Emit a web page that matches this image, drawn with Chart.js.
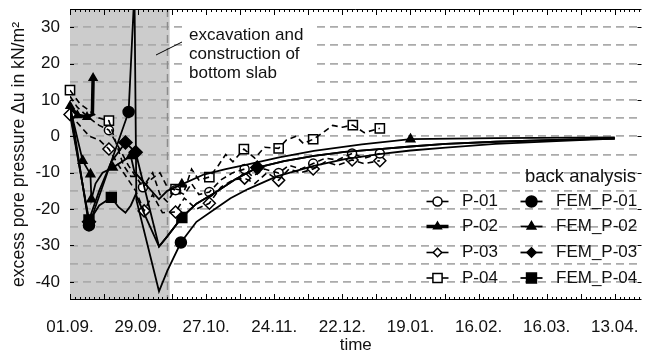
<!DOCTYPE html>
<html>
<head>
<meta charset="utf-8">
<script src="https://cdn.jsdelivr.net/npm/chart.js"></script>
<style>
  html, body { margin: 0; padding: 0; background: #fff; }
  #box { width: 650px; height: 352px; }
</style>
</head>
<body>
<div id="box"><canvas id="grafico" width="650" height="352"></canvas></div>
<script>
// x values are days counted from 01.09., y values in kN/m²
const tickDays = [0, 28, 56, 84, 112, 140, 168, 196, 224];
const tickLabels = ['01.09.', '29.09.', '27.10.', '24.11.', '22.12.', '19.01.', '16.02.', '16.03.', '13.04.'];
const yLabels = [30, 20, 10, 0, -10, -20, -30, -40];
const excavationDays = [0, 41];

// measured
const p01Line = [[0,11],[3,8],[8,5],[12,3],[16,1.7],[20,-3],[24,-8],[27,-11],[30,-14],[33,-12],[37,-10],[40,-14],[43.4,-14.8],[47,-16],[50,-13],[53,-16],[57.3,-15.3],[62,-12],[67,-10],[71.8,-9],[75,-11],[80,-9],[85.8,-10.1],[90,-8],[95,-9],[100,-7.5],[105,-6],[110,-6.5],[116,-4.7],[121,-6],[127.4,-4.7]];
const p01Marks = [[16,1.7],[30,-14],[43.4,-14.8],[57.3,-15.3],[71.8,-9],[85.8,-10.1],[100,-7.5],[116,-4.7],[127.4,-4.7]];

const p02Line = [[0,8.3],[3,5.8],[7,5.3],[9.2,6],[9.5,16]];
const p02Marks = [[0,8.3],[3,5.8],[7,5.3],[9.5,16]];

const p03Line = [[0,6],[4,3],[8,0],[12,-1],[16,-3.5],[20,-8],[24,-12],[27,-15],[30.5,-20.5],[34,-16],[38,-21],[43.4,-20.8],[47,-17],[52,-20],[57.3,-18.4],[62,-14],[67,-12],[71.8,-11.5],[76,-13],[81,-10],[85.8,-12.1],[90,-9],[95,-10],[100,-9],[105,-7],[110,-8],[116,-6.5],[121,-7.5],[127.4,-6.7]];
const p03Marks = [[0,6],[16,-3.5],[30.5,-20.5],[43.4,-20.8],[57.3,-18.4],[71.8,-11.5],[85.8,-12.1],[100,-9],[116,-6.5],[127.4,-6.7]];

const p04Line = [[0,12.7],[4,9],[8,7],[12,5],[16,4.3],[19,-2],[22,-8],[25,-11],[28,-11],[31,-13],[34,-10],[37,-16],[40,-18],[43.4,-14.5],[47,-15],[50,-9],[53,-12],[57.3,-11.2],[61,-8],[64,-5],[67,-7],[71.5,-3.5],[76,-6],[80,-3],[85.8,-3.3],[89,-1],[93,0],[96,-2],[100,-0.8],[104,1],[108,3],[112,2.5],[116.3,3.1],[121,1],[127.4,2.2]];
const p04Marks = [[0,12.7],[16,4.3],[43.4,-14.5],[57.3,-11.2],[71.5,-3.5],[85.8,-3.3],[100,-0.8],[116.3,3.1],[127.4,2.2]];

// back analysis
const fem01Line = [[0,9],[7.8,-24.5],[24.1,6.7],[26.5,40],[27.3,-17.5],[36.6,-42.6],[40,-37],[45.6,-29.2],[52,-23.5],[59.6,-20],[66,-17],[73.2,-14.5],[85,-11],[100.3,-8.1],[113,-6.3],[127.2,-4.9],[140,-3.9],[154.5,-3.1],[175,-2.1],[200,-1.3],[224,-0.6]];
const fem01Marks = [[7.8,-24.5],[24.1,6.7],[45.6,-29.2]];

const fem02Line = [[0,8],[5.2,-6.7],[8.4,-10.4],[8.8,-17.3],[10.5,-13],[13.4,-10],[17.6,-8.6],[25,-5.4],[26.5,-9.8],[36.6,-17.3],[40,-15],[46,-13.2],[55,-10.5],[64,-9],[73.2,-7.7],[86,-5.8],[100.3,-4],[120,-2.2],[140,-0.8],[175,-0.5],[224,-0.3]];
const fem02Marks = [[5.2,-6.7],[8.4,-10.4],[8.8,-17.3],[17.6,-8.6],[25,-5.4],[46,-13.2],[140,-0.8]];

const fem03Line = [[0,6],[7.8,-23],[12,-15],[17,-7],[22.8,-1.7],[27,-4.4],[36.6,-30.3],[40,-27.5],[46,-22.3],[52,-18.5],[59.6,-15.5],[68,-11.8],[77,-8.6],[88,-6.8],[100.3,-5.4],[113,-4.3],[127.2,-3.5],[140,-2.8],[154.5,-2.1],[175,-1.5],[200,-1],[224,-0.6]];
const fem03Marks = [[7.8,-23.5],[22.8,-1.7],[27,-4.4],[77,-8.6]];

const fem04Line = [[0,7],[7.8,-23.5],[12,-19],[17,-16.8],[20,-19.5],[22.8,-21],[25,-19],[27,-16],[36.6,-30.3],[40,-27.5],[46,-22.3],[52,-18.5],[59.6,-15.5],[68,-11.8],[77,-8.6],[88,-6.8],[100.3,-5.4],[113,-4.3],[127.2,-3.5],[140,-2.8],[154.5,-2.1],[175,-1.5],[200,-1],[224,-0.6]];
const fem04Marks = [[7.8,-23],[17,-16.8],[46,-22.3]];

const pts = arr => arr.map(([x, y]) => ({x, y}));

Chart.defaults.font.family = '"Liberation Sans", Arial, sans-serif';
Chart.defaults.font.size = 17;
Chart.defaults.color = '#111';

function linha(data, dash, width) {
    return {
        data: pts(data), showLine: true, borderColor: '#000', borderWidth: width,
        borderDash: dash, pointRadius: 0, fill: false, tension: 0
    };
}

function marcas(data, style, radius, filled) {
    return {
        data: pts(data), showLine: false, pointStyle: style, pointRadius: radius,
        pointBorderColor: '#000', pointBorderWidth: 1.5, clip: false,
        pointBackgroundColor: filled ? '#000' : '#fff'
    };
}

const legendItems = [
    {label: 'P-01', style: 'circle', r: 4.5, filled: false, width: 1.6, col: 0},
    {label: 'P-02', style: 'triangle', r: 4.5, filled: true, width: 3.5, col: 0},
    {label: 'P-03', style: 'rectRot', r: 6, filled: false, width: 1.6, col: 0},
    {label: 'P-04', style: 'rect', r: 6.5, filled: false, width: 1.6, col: 0},
    {label: 'FEM_P-01', style: 'circle', r: 5.5, filled: true, width: 1.8, col: 1},
    {label: 'FEM_P-02', style: 'triangle', r: 5, filled: true, width: 1.8, col: 1},
    {label: 'FEM_P-03', style: 'rectRot', r: 6.5, filled: true, width: 1.8, col: 1},
    {label: 'FEM_P-04', style: 'rect', r: 7, filled: true, width: 1.8, col: 1}
];

function desenharMarca(ctx, style, r, x, y, filled) {
    ctx.beginPath();
    if (style === 'circle') {
        ctx.arc(x, y, r, 0, Math.PI * 2);
    } else if (style === 'triangle') {
        for (let k = 0; k < 3; k++) {
            const ang = -Math.PI / 2 + k * 2 * Math.PI / 3;
            const px = x + r * Math.cos(ang), py = y + r * Math.sin(ang);
            k === 0 ? ctx.moveTo(px, py) : ctx.lineTo(px, py);
        }
    } else if (style === 'rectRot') {
        const s = r * Math.SQRT1_2;
        ctx.moveTo(x - s, y); ctx.lineTo(x, y + s); ctx.lineTo(x + s, y); ctx.lineTo(x, y - s);
    } else {
        const s = r * Math.SQRT1_2;
        ctx.rect(x - s, y - s, 2 * s, 2 * s);
    }
    ctx.closePath();
    ctx.fillStyle = filled ? '#000' : '#fff';
    ctx.fill();
    ctx.lineWidth = 1.5;
    ctx.strokeStyle = '#000';
    ctx.stroke();
}

const moldura = {
    id: 'moldura',
    beforeDraw(chart) {
        const {ctx, chartArea: a, scales: {x}} = chart;
        ctx.save();
        ctx.fillStyle = '#fff';
        ctx.fillRect(0, 0, chart.width, chart.height);
        const x0 = x.getPixelForValue(excavationDays[0]);
        const x1 = x.getPixelForValue(excavationDays[1]);
        ctx.fillStyle = '#cccccc';
        ctx.fillRect(x0, a.top, x1 - x0, a.bottom - a.top);
        ctx.restore();
    },
    beforeDatasetsDraw(chart) {
        const {ctx, chartArea: a, scales: {x}} = chart;
        const px = Math.round(x.getPixelForValue(excavationDays[1] - 1)) + 0.5;
        ctx.save();
        ctx.strokeStyle = '#8c8c8c';
        ctx.lineWidth = 1.5;
        ctx.setLineDash([8, 5]);
        ctx.beginPath();
        ctx.moveTo(px, a.top); ctx.lineTo(px, a.bottom);
        ctx.stroke();
        // note box
        ctx.setLineDash([]);
        ctx.fillStyle = '#fff';
        ctx.fillRect(186, 21, 126, 63);
        ctx.restore();
    },
    afterDraw(chart) {
        const {ctx, chartArea: a, scales: {x, y}} = chart;
        ctx.save();
        ctx.strokeStyle = '#000';
        ctx.lineWidth = 1;
        ctx.beginPath();
        ctx.moveTo(a.left, a.top + 0.5); ctx.lineTo(a.right, a.top + 0.5);
        ctx.moveTo(a.left, a.bottom - 0.5); ctx.lineTo(a.right, a.bottom - 0.5);
        for (let d = 0; d <= x.max; d += 2) {
            const px = Math.round(x.getPixelForValue(d)) + 0.5;
            const len = d % 14 === 0 ? 6 : 3;
            ctx.moveTo(px, a.top); ctx.lineTo(px, a.top + len);
            ctx.moveTo(px, a.bottom); ctx.lineTo(px, a.bottom - len);
        }
        yLabels.forEach(v => {
            const py = Math.round(y.getPixelForValue(v)) + 0.5;
            ctx.moveTo(a.left, py); ctx.lineTo(a.left + 4, py);
            ctx.moveTo(a.right, py); ctx.lineTo(a.right - 4, py);
        });
        ctx.stroke();

        // note on the excavation phase
        ctx.beginPath();
        ctx.moveTo(156, 55); ctx.lineTo(182, 42);
        ctx.stroke();
        ctx.fillStyle = '#111';
        ctx.font = '17px "Liberation Sans", Arial, sans-serif';
        ctx.textBaseline = 'middle';
        ctx.textAlign = 'left';
        ctx.fillText('excavation and', 189, 35);
        ctx.fillText('construction of', 189, 54);
        ctx.fillText('bottom slab', 189, 73);

        // legend
        ctx.font = '18.5px "Liberation Sans", Arial, sans-serif';
        ctx.fillText('back analysis', 525, 177);
        ctx.font = '17px "Liberation Sans", Arial, sans-serif';
        const rows = [201.5, 226.5, 252.5, 278];
        legendItems.forEach((it, i) => {
            const cx = it.col === 0 ? 437.5 : 531.5;
            const tx = it.col === 0 ? 462 : 556;
            const ry = rows[i % 4];
            ctx.beginPath();
            ctx.lineWidth = it.width;
            ctx.moveTo(cx - 11, ry); ctx.lineTo(cx + 11, ry);
            ctx.stroke();
            desenharMarca(ctx, it.style, it.r, cx, ry, it.filled);
            ctx.fillStyle = '#111';
            ctx.fillText(it.label, tx, ry);
        });
        ctx.restore();
    }
};

const dashMeas = [6, 4];

new Chart(document.getElementById('grafico'), {
    type: 'scatter',
    data: {
        datasets: [
            linha(p01Line, dashMeas, 1.6),
            linha(p03Line, dashMeas, 1.6),
            linha(p04Line, dashMeas, 1.6),
            linha(fem01Line, [], 1.8),
            linha(fem02Line, [], 1.8),
            linha(fem03Line, [], 1.8),
            linha(fem04Line, [], 1.8),
            linha(p02Line, [], 3.5),
            marcas(p01Marks, 'circle', 4.5, false),
            marcas(p03Marks, 'rectRot', 6, false),
            marcas(p04Marks, 'rect', 6.5, false),
            marcas(p02Marks, 'triangle', 4.5, true),
            marcas(fem01Marks, 'circle', 5.5, true),
            marcas(fem02Marks, 'triangle', 5, true),
            marcas(fem03Marks, 'rectRot', 6.5, true),
            marcas(fem04Marks, 'rect', 7, true)
        ]
    },
    options: {
        responsive: false,
        animation: false,
        events: [],
        layout: {padding: {top: 9, right: 2, left: 0, bottom: 0}},
        plugins: {legend: {display: false}, tooltip: {enabled: false}},
        scales: {
            x: {
                type: 'linear', min: 0, max: 235,
                grid: {display: false, drawTicks: false},
                border: {display: false},
                afterFit: s => { s.height = 52; s.paddingLeft = 0; s.paddingRight = 0; },
                afterBuildTicks: s => { s.ticks = tickDays.map(v => ({value: v})); },
                ticks: {
                    autoSkip: false, maxRotation: 0, padding: 17, color: '#111',
                    callback: v => tickLabels[tickDays.indexOf(v)] || ''
                },
                title: {display: true, text: 'time', color: '#111', padding: {top: 0, bottom: -4}}
            },
            y: {
                min: -45, max: 35,
                afterFit: s => { s.width = 70; s.paddingTop = 0; s.paddingBottom = 0; },
                border: {display: false, dash: [8, 5]},
                grid: {
                    drawTicks: false, lineWidth: 1.8,
                    color: c => (c.tick.value > -45 && c.tick.value < 35) ? '#ababab' : 'rgba(0,0,0,0)'
                },
                ticks: {
                    stepSize: 5, padding: 10, color: '#111', autoSkip: false,
                    callback: v => (v % 10 === 0 ? String(v) : '')
                },
                title: {
                    display: true, text: 'excess pore pressure \u0394u in kN/m\u00B2', color: '#111',
                    font: {size: 17.6}, padding: {top: 9, bottom: 0}
                }
            }
        }
    },
    plugins: [moldura]
});
</script>
</body>
</html>
